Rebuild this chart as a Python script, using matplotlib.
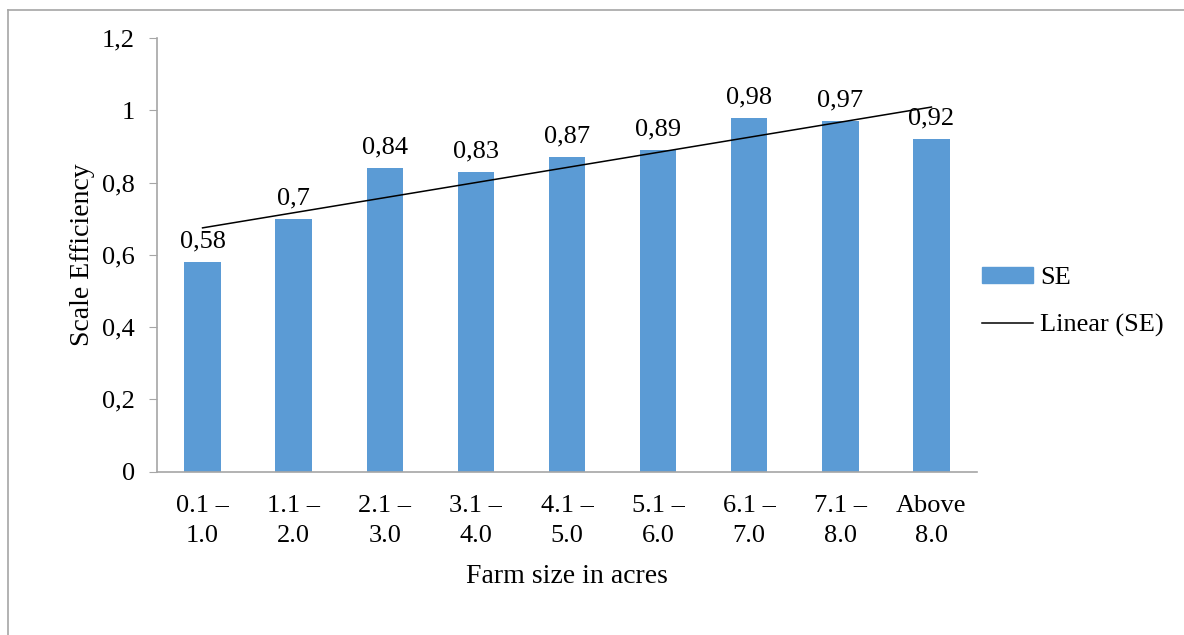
import numpy as np
import matplotlib.pyplot as plt
from matplotlib.lines import Line2D

# farm size classes and scale efficiency
farm_sizes = ['0.1 –\n1.0', '1.1 –\n2.0', '2.1 –\n3.0', '3.1 –\n4.0', '4.1 –\n5.0',
              '5.1 –\n6.0', '6.1 –\n7.0', '7.1 –\n8.0', 'Above\n8.0']
se_values = [0.58, 0.70, 0.84, 0.83, 0.87, 0.89, 0.98, 0.97, 0.92]
y_ticks = [0, 0.2, 0.4, 0.6, 0.8, 1.0, 1.2]

plt.rcParams['font.family'] = ['Liberation Serif', 'DejaVu Serif']

W, H = 1184, 635
fig = plt.figure(figsize=(W / 100, H / 100), dpi=100)
ax = fig.add_axes([157 / W, 1 - 471.5 / H, (977 - 157) / W, (471.5 - 38.3) / H])

x = np.arange(len(se_values))
bars = ax.bar(x, se_values, width=0.4, color='#5B9BD5', label='SE', zorder=2)

# linear trend line over the bars
k, b = np.polyfit(x, se_values, 1)
ax.plot(x, k * x + b, color='black', lw=1.1, zorder=3, label='Linear (SE)')

for xi, v in zip(x, se_values):
    lab = f'{v:g}'.replace('.', ',')
    ax.annotate(lab, (xi, v), xytext=(0, 7), textcoords='offset points',
                ha='center', va='bottom', fontsize=19, zorder=4)

ax.set_xlim(-0.5, len(se_values) - 0.5)
ax.set_ylim(0, 1.2)
ax.set_yticks(y_ticks)
ax.set_yticklabels([f'{t:g}'.replace('.', ',') for t in y_ticks], fontsize=19)
ax.set_xticks(x)
ax.set_xticklabels(farm_sizes, fontsize=19, linespacing=1.45)
ax.tick_params(axis='x', length=0, pad=17)
ax.tick_params(axis='y', length=6, color='#a6a6a6', pad=10)

for s in ['top', 'right']:
    ax.spines[s].set_visible(False)
ax.spines['left'].set_color('#a6a6a6')
ax.spines['bottom'].set_color('#a6a6a6')
ax.spines['left'].set_linewidth(1.2)
ax.spines['bottom'].set_linewidth(1.2)

ax.set_xlabel('Farm size in acres', fontsize=20)
ax.xaxis.set_label_coords(0.5, -(564 - 471.5) / 433.2)
ax.set_ylabel('Scale Efficiency', fontsize=20)
ax.yaxis.set_label_coords((95 - 157) / 820, 0.5)

handles = [plt.Rectangle((0, 0), 1, 1, color='#5B9BD5'),
           Line2D([0], [0], color='black', lw=1.1)]
fig.legend(handles, ['SE', 'Linear (SE)'], loc='center left',
           bbox_to_anchor=(958 / W, 1 - 302 / H), frameon=False, fontsize=19,
           handlelength=1.93, handleheight=0.53, labelspacing=0.92, handletextpad=0.27)

# outer chart frame (left and top edges)
fig.add_artist(Line2D([8 / W, 8 / W], [0, 1 - 10 / H], color='#a6a6a6', lw=1.2))
fig.add_artist(Line2D([8 / W, 1], [1 - 10 / H, 1 - 10 / H], color='#a6a6a6', lw=1.2))

fig.savefig('out.png', dpi=100)
